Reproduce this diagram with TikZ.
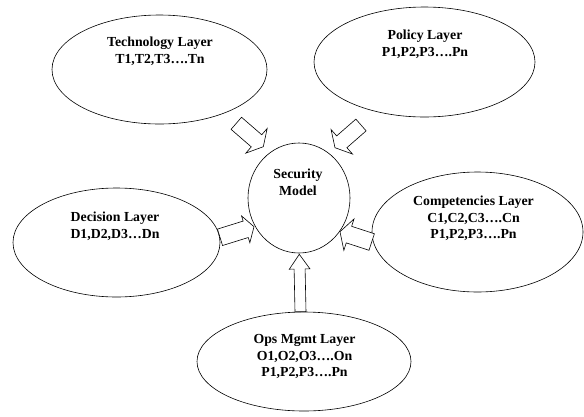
\documentclass[tikz,border=0pt]{standalone}
\usepackage{fontspec}
\setmainfont{Liberation Serif}
\usetikzlibrary{shapes.geometric,calc}
\tikzset{
  layer/.style={draw, ellipse, line width=0.6pt, inner sep=0pt},
  lbl/.style={font=\fontsize{13.8}{16.7}\selectfont\bfseries, align=center, inner sep=0pt},
  blockarr/.style={draw, fill=white, line width=0.6pt, line join=miter},
}
\newcommand\blockarrow[5]{%
  \draw[blockarr] ($(#1)!#3!90:(#2)$) -- ($(#2)!#5!(#1)!#3!-90:(#1)$)
    -- ($(#2)!#5!(#1)!#4!-90:(#1)$) -- (#2)
    -- ($(#2)!#5!(#1)!#4!90:(#1)$) -- ($(#2)!#5!(#1)!#3!90:(#1)$)
    -- ($(#1)!#3!-90:(#2)$) -- cycle;}
\begin{document}
\begin{tikzpicture}[x=1pt,y=-1pt]
\useasboundingbox[fill=white] (0,0) rectangle (584,416);
% layers
\node[layer, minimum width=215pt, minimum height=109pt] (tech) at (159.5,69.5) {};
\node[layer, minimum width=221pt, minimum height=110pt] (pol) at (424.5,62) {};
\node[layer, minimum width=207pt, minimum height=109pt] (dec) at (116.5,242.5) {};
\node[layer, minimum width=211pt, minimum height=120pt] (comp) at (477.5,232) {};
\node[layer, minimum width=214pt, minimum height=99pt] (ops) at (304,361.5) {};
\node[layer, minimum width=102pt, minimum height=110pt] (sec) at (299,198) {};
% labels
\node[lbl] (techt) at (160,51.5) {Technology Layer\\T1,T2,T3….Tn};
\node[lbl] (polt) at (425,44.5) {Policy Layer\\P1,P2,P3….Pn};
\node[lbl] (dect) at (115,226.5) {Decision Layer\\D1,D2,D3…Dn};
\node[lbl] (compt) at (473.5,218.5) {Competencies Layer\\C1,C2,C3….Cn\\P1,P2,P3….Pn};
\node[lbl] (opst) at (304.5,356.5) {Ops Mgmt Layer\\O1,O2,O3….On\\P1,P2,P3….Pn};
\node[lbl] (sect) at (298,182.5) {Security\\Model};
% arrow end points
\coordinate (a1) at (236.3,123.3); \coordinate (b1) at (263.3,146.7);
\coordinate (a2) at (361,125);     \coordinate (b2) at (335,147.7);
\coordinate (a3) at (220,237.3);   \coordinate (b3) at (254,226.7);
\coordinate (a4) at (371.7,242);   \coordinate (b4) at (340,231.7);
\coordinate (a5) at (300.5,311.7); \coordinate (b5) at (299.3,254.3);
\blockarrow{a1}{b1}{8pt}{16.3pt}{9pt}
\blockarrow{a2}{b2}{7.8pt}{16.3pt}{9pt}
\blockarrow{a3}{b3}{8.6pt}{14pt}{8.7pt}
\blockarrow{a4}{b4}{8.7pt}{16.5pt}{9.4pt}
\blockarrow{a5}{b5}{5.5pt}{10.3pt}{14.7pt}
\end{tikzpicture}
\end{document}
